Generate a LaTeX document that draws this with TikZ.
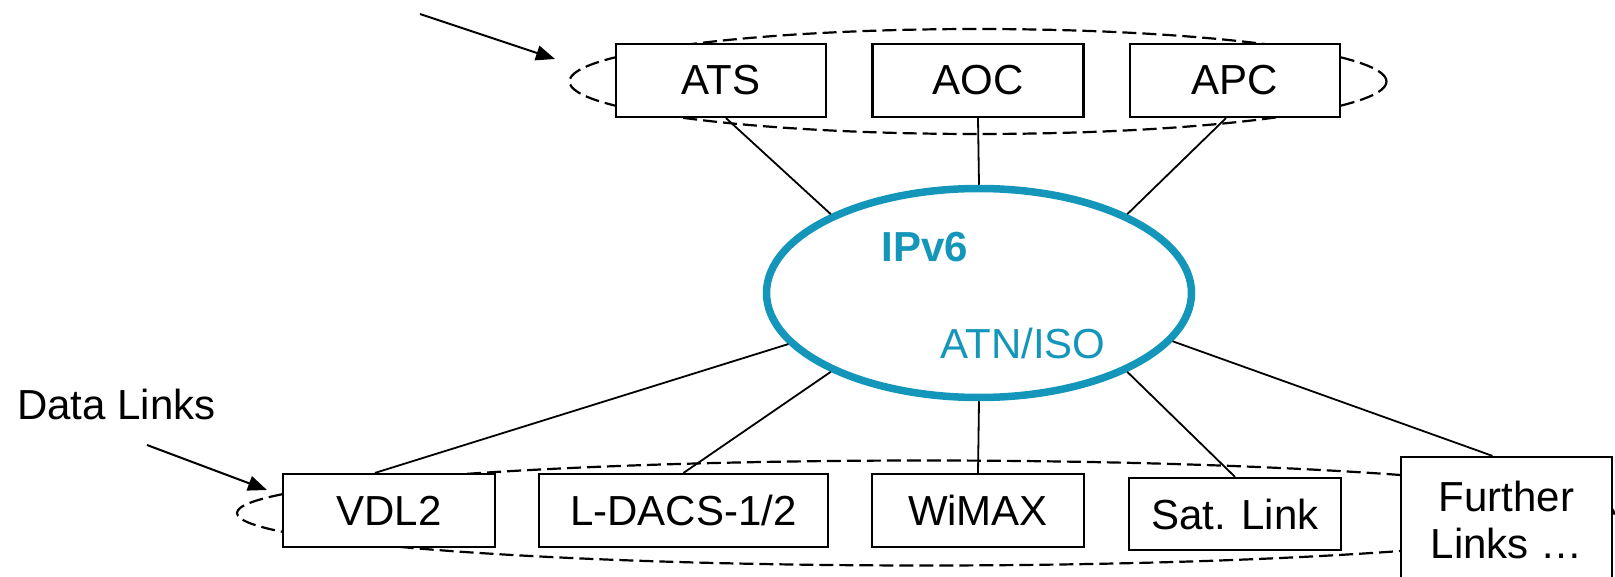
\documentclass[tikz,border=0pt]{standalone}
\usepackage{fontspec}
\setmainfont{Liberation Sans}
\usetikzlibrary{shapes.geometric,arrows.meta}
\definecolor{ipteal}{RGB}{20,150,187}
\tikzset{
  box/.style={draw=black, fill=white, line width=2.2pt, minimum height=73pt, inner sep=0pt, font=\fontsize{42}{47}\selectfont},
  ring/.style={ellipse, draw=black, dash pattern=on 14pt off 6pt, line width=2.2pt, inner sep=0pt},
  link/.style={draw=black, line width=1.8pt},
  pointer/.style={draw=black, line width=2pt, -{Triangle[length=19pt,width=15pt]}},
  lbl/.style={font=\fontsize{42}{47}\selectfont, inner sep=0pt},
}
\begin{document}
\begin{tikzpicture}[x=1pt,y=-1pt]
\useasboundingbox (0,0) rectangle (1615,577);
% dashed groupings
\node[ring, minimum width=817pt, minimum height=105pt] (topring) at (978,81.5) {};
\node[ring, minimum width=1377pt, minimum height=105pt] (botring) at (925.5,513) {};
% applications
\node[box, minimum width=210pt] (ats) at (721,80.5) {ATS};
\node[box, minimum width=211pt] (aoc) at (978,80.5) {AOC};
\node[box, minimum width=210pt] (apc) at (1235,80.5) {APC};
% data links
\node[box, minimum width=212pt] (vdl) at (389,510.5) {VDL2};
\node[box, minimum width=289pt] (ldacs) at (683.5,510.5) {L-DACS-1/2};
\node[box, minimum width=212pt] (wimax) at (978,510.5) {WiMAX};
\node[box, minimum width=212pt, minimum height=72pt] (sat) at (1235,514) {Sat. Link};
\node[box, minimum width=211pt, minimum height=160pt] (fur) at (1506.5,537) {};
\node[lbl, align=center] (furtext) at (1506.5,519.5) {Further\\Links …};
% network cloud
\node[ellipse, draw=ipteal, fill=white, line width=7.5pt, minimum width=425pt, minimum height=209pt, inner sep=0pt] (ip) at (979,293) {};
\node[lbl, text=ipteal, font=\fontsize{42}{47}\selectfont\bfseries] (ipv6) at (925,247.5) {IPv6};
\node[lbl, text=ipteal] (atn) at (1023,343) {ATN/ISO};
% label
\node[lbl, anchor=west] (dl) at (17,404) {Data Links};
% pointer arrows
\coordinate (topfrom) at (420,14);
\coordinate (topto) at (555,59);
\coordinate (botfrom) at (147,445);
\coordinate (botto) at (267,490);
\draw[pointer] (topfrom) -- (topto);
\draw[pointer] (botfrom) -- (botto);
% connectors
\draw[link] ([xshift=5pt]ats.south) -- (ip.152);
\draw[link] (aoc.south) -- (ip.north);
\draw[link] ([xshift=-9pt]apc.south) -- (ip.28);
\draw[link] ([xshift=-14pt]vdl.north) -- (ip.195);
\draw[link] (ldacs.north) -- (ip.208);
\draw[link] (wimax.north) -- (ip.south);
\draw[link] (sat.north) -- (ip.332);
\draw[link] ([xshift=-14pt]fur.north) -- (ip.346);
\end{tikzpicture}
\end{document}
